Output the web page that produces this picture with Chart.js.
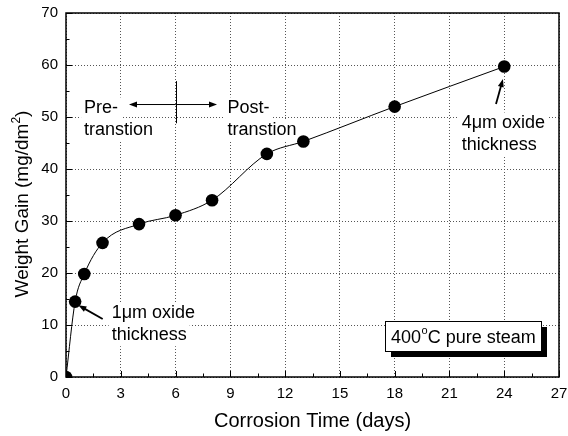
<!DOCTYPE html>
<html>
<head>
<meta charset="utf-8">
<script src="https://cdn.jsdelivr.net/npm/chart.js@4/dist/chart.umd.min.js"></script>
<style>
  html, body { margin: 0; padding: 0; background: #fff; }
  #wrap { width: 568px; height: 436px; }
</style>
</head>
<body>
<div id="wrap"><canvas id="grafico"></canvas></div>
<script>
// data
var days = [0, 0.5, 1, 2, 4, 6, 8, 11, 13, 18, 24];
var weightGain = [0, 14.5, 19.8, 25.8, 29.4, 31.1, 34.0, 42.9, 45.3, 52.0, 59.7];
var xTickValues = [0, 3, 6, 9, 12, 15, 18, 21, 24, 27];
var yTickValues = [0, 10, 20, 30, 40, 50, 60, 70];
var xTitle = 'Corrosion Time (days)';
var yTitle = 'Weight Gain (mg/dm';

var fonte = "'Liberation Sans', Arial, Helvetica, sans-serif";

// notes drawn on the plot, placed in data units
var notas = [
    { x: 0.99, y: 50.7, linhas: ['Pre-', 'transtion'] },
    { x: 8.85, y: 50.7, linhas: ['Post-', 'transtion'] },
    { x: 2.5, y: 11.3, linhas: ['1\u03bcm oxide', 'thickness'] },
    { x: 21.67, y: 47.8, linhas: ['4\u03bcm oxide', 'thickness'] }
];
var setas = [
    { x1: 6, y1: 52.4, x2: 3.45, y2: 52.4, lw: 1 },
    { x1: 6, y1: 52.4, x2: 8.27, y2: 52.4, lw: 1 },
    { x1: 2.01, y1: 11.15, x2: 0.68, y2: 13.8, lw: 1.8 },
    { x1: 23.55, y1: 52.5, x2: 23.93, y2: 57.3, lw: 1.8 }
];

function seta(ctx, x1, y1, x2, y2, lw) {
    var ang = Math.atan2(y2 - y1, x2 - x1);
    var L = 8, W = 3;
    ctx.lineWidth = lw;
    ctx.beginPath();
    ctx.moveTo(x1, y1);
    ctx.lineTo(x2 - Math.cos(ang) * L * 0.8, y2 - Math.sin(ang) * L * 0.8);
    ctx.stroke();
    ctx.beginPath();
    ctx.moveTo(x2, y2);
    ctx.lineTo(x2 - Math.cos(ang) * L - Math.sin(ang) * W, y2 - Math.sin(ang) * L + Math.cos(ang) * W);
    ctx.lineTo(x2 - Math.cos(ang) * L + Math.sin(ang) * W, y2 - Math.sin(ang) * L - Math.cos(ang) * W);
    ctx.closePath();
    ctx.fill();
}

var plugin = {
    id: 'extras',
    beforeDatasetsDraw: function (chart) {
        var ctx = chart.ctx, xs = chart.scales.x, ys = chart.scales.y;
        ctx.save();
        ctx.font = '18px ' + fonte;
        ctx.fillStyle = '#fff';
        notas.forEach(function (n) {
            var px = xs.getPixelForValue(n.x), py = ys.getPixelForValue(n.y);
            n.linhas.forEach(function (t, i) {
                var w = ctx.measureText(t).width;
                ctx.fillRect(px - 3, py + i * 22 - 16, w + 6, 22);
            });
        });
        ctx.restore();
    },
    afterDatasetsDraw: function (chart) {
        var ctx = chart.ctx, a = chart.chartArea, xs = chart.scales.x, ys = chart.scales.y;
        ctx.save();

        // inward ticks on bottom and left
        ctx.strokeStyle = '#000';
        ctx.lineWidth = 1;
        var v, p;
        for (v = 0; v <= 27; v += 1.5) {
            p = Math.round(xs.getPixelForValue(v)) + 0.5;
            ctx.beginPath();
            ctx.moveTo(p, a.bottom);
            ctx.lineTo(p, a.bottom - (v % 3 === 0 ? 6 : 3.5));
            ctx.stroke();
        }
        for (v = 0; v <= 70; v += 5) {
            p = Math.round(ys.getPixelForValue(v)) + 0.5;
            ctx.beginPath();
            ctx.moveTo(a.left, p);
            ctx.lineTo(a.left + (v % 10 === 0 ? 6 : 3.5), p);
            ctx.stroke();
        }

        // frame
        ctx.lineWidth = 1.5;
        ctx.strokeRect(a.left, a.top, a.right - a.left, a.bottom - a.top);

        // notes
        ctx.fillStyle = '#000';
        ctx.font = '18px ' + fonte;
        ctx.textBaseline = 'alphabetic';
        notas.forEach(function (n) {
            var px = xs.getPixelForValue(n.x), py = ys.getPixelForValue(n.y);
            n.linhas.forEach(function (t, i) {
                ctx.fillText(t, px, py + i * 22);
            });
        });

        // cross at the transition
        ctx.lineWidth = 1;
        var cx = Math.round(xs.getPixelForValue(6)) + 0.5;
        ctx.beginPath();
        ctx.moveTo(cx, ys.getPixelForValue(56.9));
        ctx.lineTo(cx, ys.getPixelForValue(48.8));
        ctx.stroke();
        setas.forEach(function (s) {
            seta(ctx, xs.getPixelForValue(s.x1), ys.getPixelForValue(s.y1),
                 xs.getPixelForValue(s.x2), ys.getPixelForValue(s.y2), s.lw);
        });

        // condition box with shadow
        ctx.lineWidth = 1;
        var bx = Math.round(xs.getPixelForValue(17.47)), by = Math.round(ys.getPixelForValue(10.8));
        var bw = Math.round(xs.getPixelForValue(26.0) - bx), bh = Math.round(ys.getPixelForValue(5.06) - by);
        ctx.fillStyle = '#000';
        ctx.fillRect(bx + 6, by + 6, bw, bh);
        ctx.fillStyle = '#fff';
        ctx.fillRect(bx, by, bw, bh);
        ctx.strokeStyle = '#000';
        ctx.strokeRect(bx + 0.5, by + 0.5, bw, bh);
        ctx.fillStyle = '#000';
        ctx.font = '18px ' + fonte;
        var tx = bx + 6, ty = by + bh - 8;
        ctx.fillText('400', tx, ty);
        tx += ctx.measureText('400').width;
        ctx.font = '11px ' + fonte;
        ctx.fillText('o', tx + 0.5, ty - 9);
        tx += ctx.measureText('o').width + 0.5;
        ctx.font = '18px ' + fonte;
        ctx.fillText('C pure steam', tx, ty);

        // axis titles
        ctx.font = '20px ' + fonte;
        ctx.textAlign = 'center';
        ctx.fillText(xTitle, (a.left + a.right) / 2, 427);

        ctx.translate(28, 204);
        ctx.rotate(-Math.PI / 2);
        ctx.font = '19px ' + fonte;
        var w1 = ctx.measureText(yTitle).width;
        ctx.font = '12px ' + fonte;
        var w2 = ctx.measureText('2').width;
        ctx.font = '19px ' + fonte;
        var w3 = ctx.measureText(')').width;
        var x0 = -(w1 + w2 + w3) / 2;
        ctx.textAlign = 'left';
        ctx.fillText(yTitle, x0, 0);
        ctx.font = '12px ' + fonte;
        ctx.fillText('2', x0 + w1, -8);
        ctx.font = '19px ' + fonte;
        ctx.fillText(')', x0 + w1 + w2, 0);

        ctx.restore();
    }
};

var pontos = days.map(function (d, i) { return { x: d, y: weightGain[i] }; });

var grafico = new Chart(document.getElementById('grafico').getContext('2d'), {
    type: 'line',
    data: {
        datasets: [{
            data: pontos,
            borderColor: '#000',
            backgroundColor: '#000',
            borderWidth: 1,
            pointRadius: 6.3,
            pointBorderWidth: 0,
            cubicInterpolationMode: 'monotone',
            fill: false
        }]
    },
    options: {
        responsive: true,
        maintainAspectRatio: false,
        animation: false,
        events: [],
        layout: { padding: { top: 13, right: 9, left: 0, bottom: 0 } },
        plugins: {
            legend: { display: false },
            tooltip: { enabled: false }
        },
        scales: {
            x: {
                type: 'linear',
                min: 0,
                max: 27,
                afterBuildTicks: function (s) { s.ticks = xTickValues.map(function (v) { return { value: v }; }); },
                afterFit: function (s) { s.height = 59; s.paddingLeft = 0; s.paddingRight = 0; },
                grid: { color: '#555', lineWidth: 1, drawTicks: false },
                border: { display: false, dash: [1, 2] },
                ticks: { color: '#000', font: { family: fonte, size: 15 }, padding: 8, maxRotation: 0 },
                title: { display: false }
            },
            y: {
                min: 0,
                max: 70,
                afterBuildTicks: function (s) { s.ticks = yTickValues.map(function (v) { return { value: v }; }); },
                afterFit: function (s) { s.width = 66; s.paddingTop = 0; s.paddingBottom = 0; },
                grid: { color: '#555', lineWidth: 1, drawTicks: false },
                border: { display: false, dash: [1, 2] },
                ticks: { color: '#000', font: { family: fonte, size: 15 }, padding: 8 },
                title: { display: false }
            }
        }
    },
    plugins: [plugin]
});
</script>
</body>
</html>
